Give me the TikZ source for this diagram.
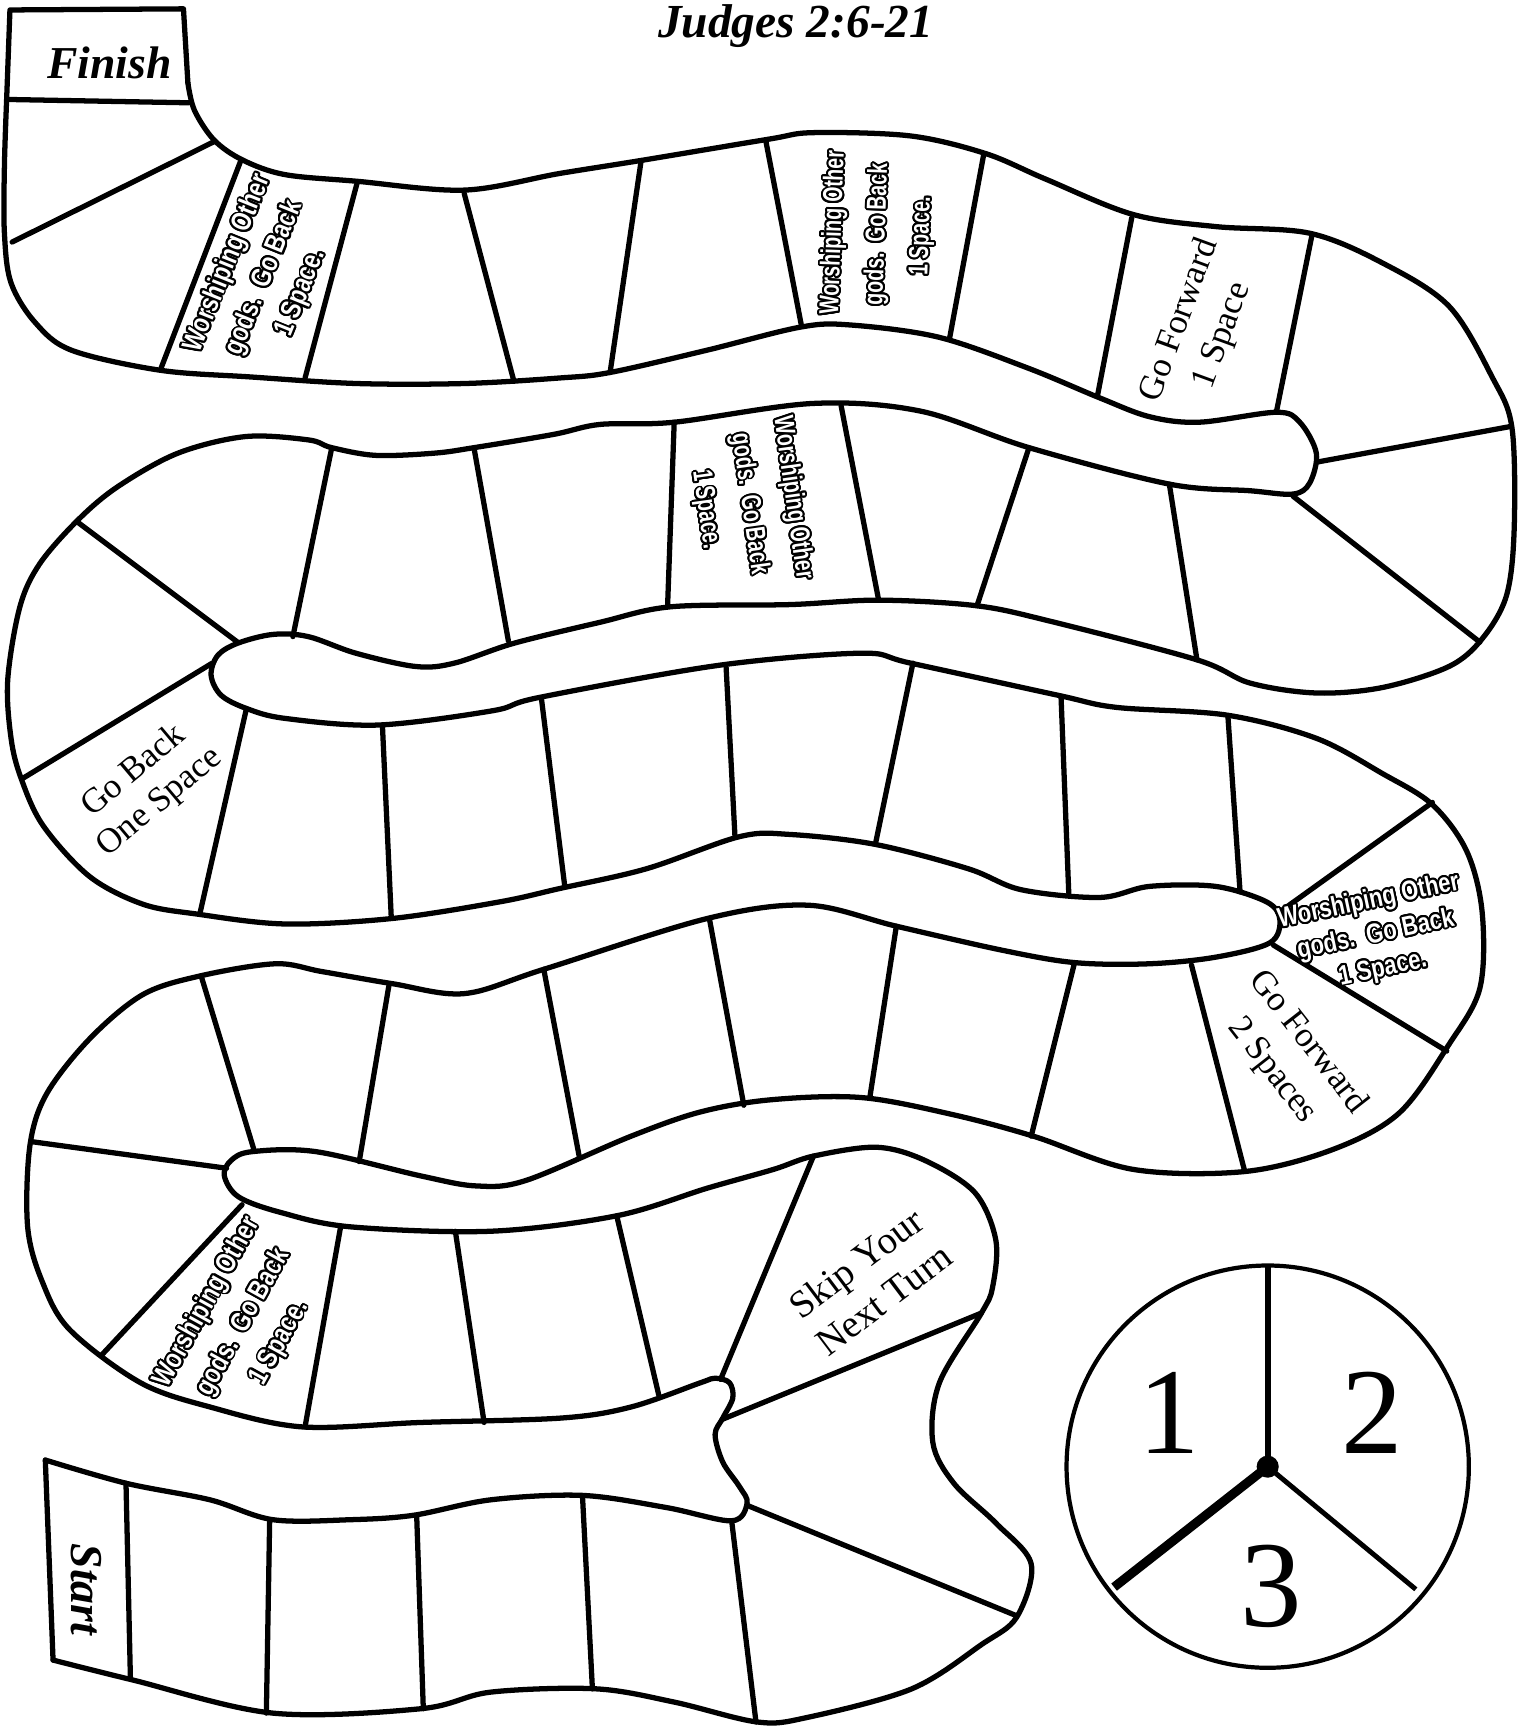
\documentclass[tikz,border=0pt]{standalone}
\usepackage{fontspec}
\setmainfont{Liberation Serif}
\newfontfamily\rulefont[FakeStretch=0.8]{Liberation Sans}
\newfontfamily\narrowrulefont[FakeStretch=0.71]{Liberation Sans}
\usepackage{contour}
\contourlength{0.55pt}
\contournumber{20}
\newcommand{\hollow}[1]{\contour{black}{#1}}
\newcommand{\worshiptext}{\hollow{Worshiping Other}\\\hollow{gods.\ \ Go Back}\\\hollow{1 Space.}}
\begin{document}
\begin{tikzpicture}[
  x=0.011056cm, y=-0.011056cm,
  rim/.style={line width=1.5pt, line cap=round, line join=round},
  wall/.style={line width=1.5pt, line cap=round},
  godsnote/.style n args={2}{font=\rulefont\bfseries\fontsize{#1}{#2}\selectfont, text=white, align=center, inner sep=0pt},
  narrownote/.style={font=\narrowrulefont\bfseries\fontsize{7.8}{12.5}\selectfont, text=white, align=center, inner sep=0pt},
  cue/.style n args={2}{font=\fontsize{#1}{#2}\selectfont, align=center, inner sep=0pt},
  digit/.style={font=\fontsize{35}{35}\selectfont, inner sep=0pt}
]
\useasboundingbox (0,0) rectangle (1373,1568);
\node[font=\bfseries\itshape\fontsize{13.5}{15}\selectfont] (title) at (720,24) {Judges 2:6-21};
\draw[rim] (170,75) -- (166,8) -- (9,9) -- (6,90);
\draw[rim] plot[smooth, tension=0.55] coordinates {(6,90) (4,150) (4,211) (10,256) (32,292) (65,317) (145,335) (226,341) (323,347) (420,347) (506,342) (552,337) (639,317) (724,296) (769,294) (849,305) (930,333) (995,360) (1040,377) (1085,382) (1155,373) (1176,382) (1191,410) (1185,437) (1170,447) (1131,444) (1058,438) (931,405) (833,372) (736,365) (610,382) (543,384) (501,393) (429,405) (393,410) (340,412) (300,405) (279,398) (222,395) (161,410) (107,440) (71,470) (36,510) (18,549) (7,615) (10,668) (19,704) (39,747) (81,793) (129,818) (178,827) (258,836) (355,831) (452,816) (506,804) (585,786) (669,757) (715,755) (792,764) (876,786) (924,805) (995,812) (1040,802) (1100,802) (1146,816) (1158,832) (1149,853) (1100,866) (1040,872) (973,871) (908,860) (811,838) (731,819) (640,831) (492,877) (420,899) (355,890) (291,879) (249,872) (181,883) (129,900) (81,940) (42,990) (27,1037) (25,1110) (38,1159) (63,1203) (127,1251) (190,1273) (273,1291) (381,1287) (508,1283) (571,1273) (634,1251) (647,1247) (660,1251) (663,1265) (654,1283) (647,1298) (654,1323) (669,1345) (676,1360) (662,1376) (603,1364) (527,1353) (444,1357) (374,1371) (317,1375) (247,1375) (190,1357) (114,1342) (41,1321)};
\draw[rim] (41,1321) -- (48,1502);
\draw[rim] plot[smooth, tension=0.55] coordinates {(48,1502) (120,1520) (247,1550) (381,1546) (444,1531) (539,1528) (610,1540) (685,1558) (730,1554) (825,1528) (888,1488) (920,1463) (933,1415) (901,1378) (863,1342) (844,1305) (850,1251) (888,1188) (898,1165) (901,1122) (882,1079) (837,1050) (793,1038) (736,1046) (700,1058) (640,1075) (558,1100) (444,1114) (317,1110) (254,1097) (216,1083) (203,1064) (209,1050) (228,1042) (286,1042) (381,1064) (431,1073) (476,1068) (571,1028) (634,1006) (698,995) (779,993) (860,1008) (935,1028) (1025,1058) (1126,1060) (1206,1040) (1266,1007) (1311,945) (1339,894) (1341,825) (1327,770) (1296,728) (1251,700) (1191,668) (1110,647) (1010,640) (957,629) (824,600) (779,591) (650,602) (488,631) (446,643) (342,656) (258,650) (223,641) (200,629) (191,611) (197,593) (215,582) (247,574) (279,576) (322,591) (376,603) (411,600) (465,582) (543,563) (607,549) (715,547) (795,543) (883,548) (950,562) (1083,597) (1131,618) (1191,627) (1251,622) (1311,603) (1341,578) (1363,539) (1370,479) (1368,387) (1350,341) (1311,277) (1251,238) (1185,211) (1100,205) (1025,194) (946,162) (892,139) (824,123) (736,120) (695,126) (581,145) (506,157) (420,172) (323,164) (258,158) (220,145) (194,127) (176,100) (170,75)};
\foreach \xa/\ya/\xb/\yb in {8/90/171/93, 11/219/194/128, 145/335/218/145, 276/342/323/166, 465/345/420/175, 580/146/552/337, 693/128/725/294, 890/140/859/307, 1024/197/993/358, 1187/213/1155/372, 1192/418/1366/386, 1170/449/1339/581,
  1058/438/1083/597, 931/405/884/548, 761/367/795/543, 610/382/604/549, 429/406/460/580, 300/406/265/576, 71/473/215/581,
  192/600/21/704, 223/641/181/826, 346/656/354/830, 490/633/511/802, 657/604/665/757, 826/600/792/764, 960/630/967/808, 1111/648/1122/807, 1158/825/1296/726,
  1152/855/1309/951, 1078/873/1126/1059, 972/872/933/1028, 811/838/787/993, 642/832/673/1000, 492/877/524/1046, 352/891/325/1051, 182/883/230/1041, 29/1033/205/1057,
  92/1226/219/1090, 276/1291/308/1111, 438/1287/412/1114, 596/1262/558/1100, 652/1248/736/1046, 888/1188/654/1284, 676/1362/920/1462,
  114/1342/118/1519, 244/1375/241/1550, 377/1371/383/1546, 527/1353/536/1528, 662/1376/684/1558}{
  \draw[wall] (\xa,\ya) -- (\xb,\yb);
}
\node[font=\bfseries\itshape\fontsize{13}{15}\selectfont] (finish) at (99,57) {Finish};
\node[font=\bfseries\itshape\fontsize{13}{15}\selectfont, rotate=-90] (start) at (78,1438) {Start};
\node[godsnote={8}{11.2}, rotate=68] (worshipA) at (240,252) {\worshiptext};
\node[narrownote, rotate=88] (worshipB) at (795,212) {\worshiptext};
\node[narrownote, rotate=-82] (worshipC) at (677,456) {\worshiptext};
\node[godsnote={7.8}{9.8}, rotate=12] (worshipD) at (1245,847) {\worshiptext};
\node[godsnote={8}{11.8}, rotate=61] (worshipE) at (221,1197) {\worshiptext};
\node[cue={10}{13}, rotate=70] (fwdone) at (1087,297) {Go Forward\\1 Space};
\node[cue={10}{11.5}, rotate=40] (backone) at (133,712) {Go Back\\One Space};
\node[cue={10}{13}, rotate=-52] (fwdtwo) at (1167,956) {Go Forward\\2 Spaces};
\node[cue={11}{13}, rotate=37] (skipturn) at (787,1159) {Skip Your\\Next Turn};
\coordinate (hub) at (1147,1327);
\draw[line width=1.2pt] (hub) circle[radius=182];
\draw[line width=1.7pt] (hub) -- (1147,1145);
\draw[line width=2.6pt] (hub) -- (1008,1436);
\draw[line width=1.4pt] (hub) -- (1281,1438);
\fill (hub) circle[radius=10];
\node[digit] (one) at (1058,1278) {1};
\node[digit] (two) at (1242,1278) {2};
\node[digit] (three) at (1150,1435) {3};
\end{tikzpicture}
\end{document}
